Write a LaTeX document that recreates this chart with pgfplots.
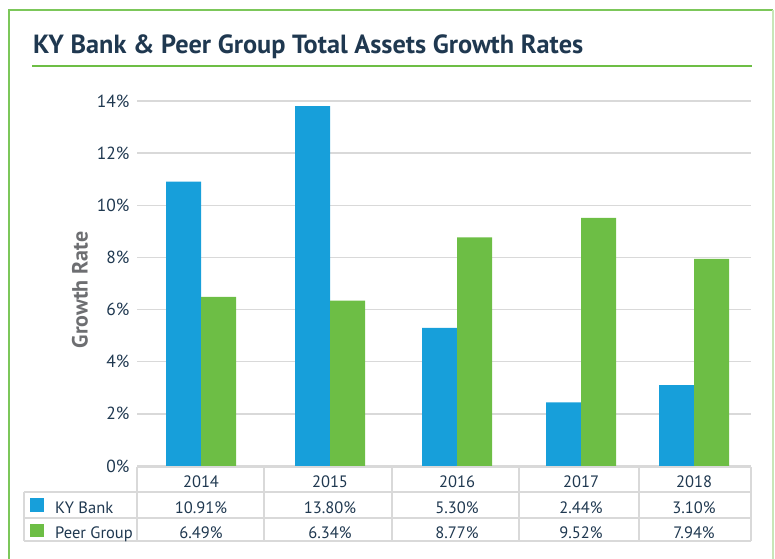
\documentclass[border=0pt]{standalone}
\usepackage{fontspec}
\setmainfont{PT Sans}
\usepackage{pgfplots}
\pgfplotsset{compat=1.18}
\definecolor{navy}{HTML}{1F3850}
\definecolor{kyblue}{HTML}{179FDA}
\definecolor{peergreen}{HTML}{6DBE45}
\definecolor{gridgray}{HTML}{D9D9D9}
\definecolor{labgray}{HTML}{6D6E71}
\definecolor{framegreen}{HTML}{7CC75A}
\definecolor{framelight}{HTML}{C8E6B8}
\begin{document}
\begin{tikzpicture}[x=1pt,y=1pt]
\path[use as bounding box] (0,0) rectangle (775,558);
% outer frame
\draw[framegreen, line width=1.5pt] (9,-10) -- (9,548) -- (773,548);
\draw[framelight, line width=1.5pt] (773,548) -- (773,-10);
% title
\node[anchor=base west, inner sep=0, text=navy, font=\fontsize{26.3}{31}\selectfont\bfseries] at (33,504) {KY Bank \& Peer Group Total Assets Growth Rates};
\draw[peergreen, line width=2pt] (32,492) -- (752,492);
\begin{axis}[
  at={(137pt,92pt)}, anchor=south west,
  width=614pt, height=365pt, scale only axis,
  xmin=137, xmax=751, ymin=0, ymax=14,
  axis line style={draw=none},
  major tick length=0pt,
  ymajorgrids, grid style={gridgray, line width=1.3pt},
  ytick={0,2,...,14},
  yticklabel={\pgfmathprintnumber[assume math mode=true]{\tick}\%},
  yticklabel style={text=navy, font=\fontsize{17.5}{20}\selectfont, anchor=east, xshift=-4pt},
  xtick={201,330,457,581,694},
  xticklabels={2014,2015,2016,2017,2018},
  xticklabel style={text=navy, font=\fontsize{16.5}{19}\selectfont, anchor=base, yshift=-21pt},
  ybar=0pt, bar width=35pt,
  clip=false,
]
\addplot[fill=kyblue, draw=none] coordinates {(201,10.91) (330,13.80) (457,5.30) (581,2.44) (694,3.10)};
\addplot[fill=peergreen, draw=none] coordinates {(201,6.49) (330,6.34) (457,8.77) (581,9.52) (694,7.94)};
\end{axis}
% y label
\node[rotate=90, text=labgray, font=\fontsize{22}{26}\selectfont\bfseries] at (80,268) {Growth Rate};
% data table grid
\begin{scope}[gridgray, line width=1.5pt]
\draw (137,91) -- (751,91);
\draw (24,66) -- (751,66);
\draw (24,40) -- (751,40);
\draw (24,17) -- (751,17);
\draw (24,66) -- (24,17);
\foreach \xx in {137,264,392,519,639,751} {\draw (\xx,91) -- (\xx,17);}
\end{scope}
% legend keys
\fill[kyblue] (30,46) rectangle (44,60);
\fill[peergreen] (30,21) rectangle (44,34);
\begin{scope}[every node/.style={anchor=base, inner sep=0, text=navy, font=\fontsize{16.5}{19}\selectfont}]
\node[anchor=base west] at (55,45) {KY Bank};
\node[anchor=base west] at (55,20) {Peer Group};
\node at (201,45) {10.91\%};
\node at (330,45) {13.80\%};
\node at (457,45) {5.30\%};
\node at (581,45) {2.44\%};
\node at (694,45) {3.10\%};
\node at (201,20) {6.49\%};
\node at (330,20) {6.34\%};
\node at (457,20) {8.77\%};
\node at (581,20) {9.52\%};
\node at (694,20) {7.94\%};
\end{scope}
\end{tikzpicture}
\end{document}
